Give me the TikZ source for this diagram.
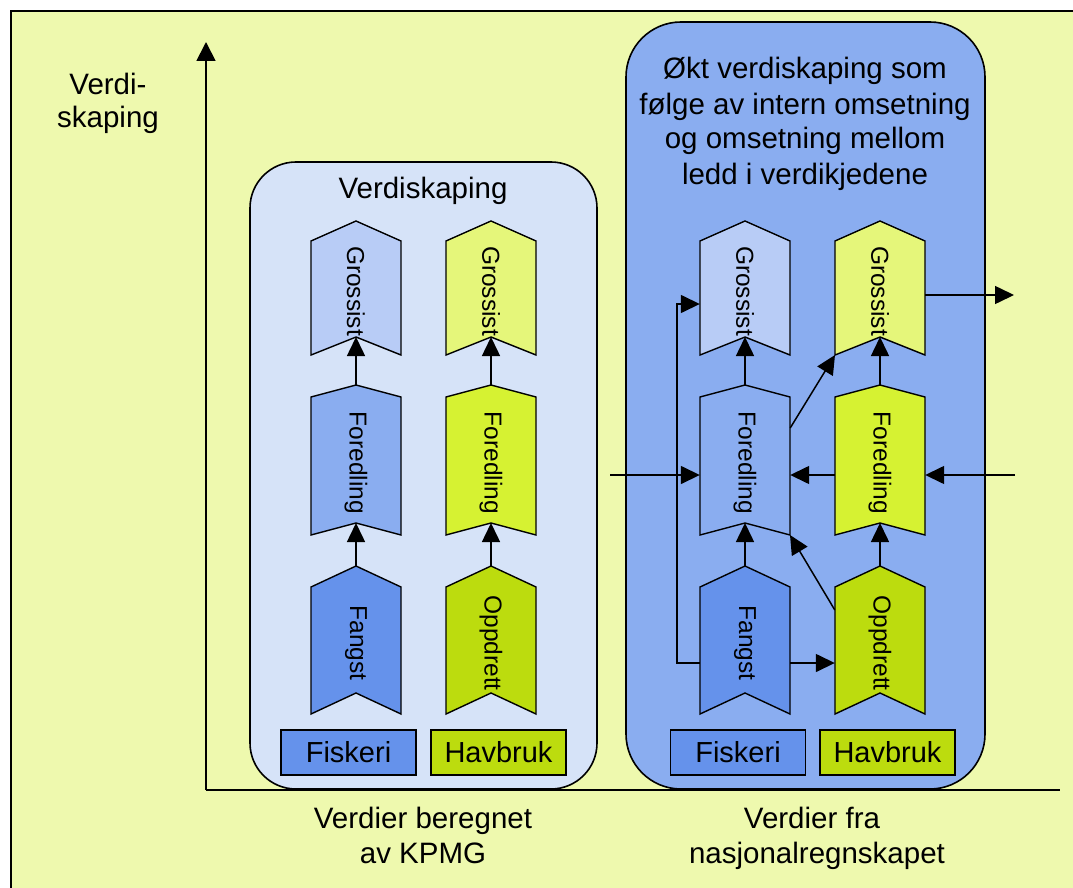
\documentclass[tikz,border=0pt]{standalone}
\usepackage{fontspec}
\setmainfont{Liberation Sans}
\usetikzlibrary{arrows.meta,calc}
\definecolor{bgyellow}{RGB}{238,249,174}
\definecolor{panelA}{RGB}{214,227,248}
\definecolor{panelB}{RGB}{138,173,240}
\definecolor{blueDark}{RGB}{101,146,235}
\definecolor{blueMid}{RGB}{138,173,240}
\definecolor{blueLight}{RGB}{184,204,246}
\definecolor{greenDark}{RGB}{188,220,14}
\definecolor{greenMid}{RGB}{214,242,50}
\definecolor{greenLight}{RGB}{229,246,122}

\tikzset{
  chevline/.style={draw=black, line width=1.4pt, line join=miter},
  chevbox/.style={draw=none, rectangle, minimum width=90pt, inner sep=0pt},
  chevtext/.style={rotate=-90, font=\fontsize{24.5}{28}\selectfont, inner sep=0pt},
  lbl/.style={font=\fontsize{29.5}{35}\selectfont, inner sep=0pt},
  sectorbox/.style={draw=black, line width=1.4pt, minimum width=135pt, minimum height=45pt, inner sep=0pt, font=\fontsize{29}{35}\selectfont},
  panel/.style={draw=black, line width=1.6pt},
  arr/.style={draw=black, line width=1.5pt, -{Triangle[length=19pt,width=18pt]}},
  plain/.style={draw=black, line width=1.5pt},
}

% name, cx, peak, shoulder, notch, bottom, fill, text
\newcommand{\chev}[8]{%
  \draw[chevline, fill=#7] (#2,#3) -- ({#2+45},#4) -- ({#2+45},#6) -- (#2,#5) -- ({#2-45},#6) -- ({#2-45},#4) -- cycle;
  \node[chevbox, minimum height={(#6-#3)*1pt}] (#1) at (#2,{(#3+#6)/2}) {};
  \node[chevtext] (#1-t) at (#2,{(#3+#6)/2+3}) {#8};
  \coordinate (#1-peak) at (#2,#3);
  \coordinate (#1-notch) at (#2,#5);
  \coordinate (#1-bl) at ({#2-45},#6);
  \coordinate (#1-br) at ({#2+45},#6);
}

\begin{document}
\begin{tikzpicture}[x=1pt,y=-1pt]
\useasboundingbox (0,0) rectangle (1073,888);
% outer frame
\draw[line width=2pt, fill=bgyellow] (11,11) rectangle (1090,905);

% panels
\draw[panel, fill=panelA, rounded corners=46pt] (250,162) rectangle (597,789);
\draw[panel, fill=panelB, rounded corners=55pt] (626,22) rectangle (985,789);

% axes
\coordinate (origin) at (206,790);
\coordinate (ytip) at (206,42);
\coordinate (xend) at (1060,790);
\draw[line width=1.8pt, -{Triangle[length=19pt,width=19pt]}] (origin) -- (ytip);
\draw[line width=1.8pt] (origin) -- (xend);

% axis label
\node[lbl, anchor=base] (yl1) at (108,95) {Verdi-};
\node[lbl, anchor=base] (yl2) at (108,128) {skaping};

% left panel title
\node[lbl, anchor=base] (vk) at (423,198) {Verdiskaping};

% right panel title
\node[lbl, anchor=base] (t1) at (805,79) {Økt verdiskaping som};
\node[lbl, anchor=base] (t2) at (805,114) {følge av intern omsetning};
\node[lbl, anchor=base] (t3) at (805,149) {og omsetning mellom};
\node[lbl, anchor=base] (t4) at (805,184) {ledd i verdikjedene};

% bottom labels
\node[lbl, anchor=base] (b1) at (423,828) {Verdier beregnet};
\node[lbl, anchor=base] (b2) at (423,863) {av KPMG};
\node[lbl, anchor=base] (b3) at (812,828) {Verdier fra};
\node[lbl, anchor=base] (b4) at (817,863) {nasjonalregnskapet};

% left panel chevrons
\chev{lbGro}{356}{221}{241}{337}{355}{blueLight}{Grossist}
\chev{lbFor}{356}{385}{397}{523}{535}{blueMid}{Foredling}
\chev{lbFan}{356}{566}{587}{693}{714}{blueDark}{Fangst}
\chev{lgGro}{491}{221}{241}{337}{355}{greenLight}{Grossist}
\chev{lgFor}{491}{385}{397}{523}{535}{greenMid}{Foredling}
\chev{lgOpp}{491}{566}{587}{693}{714}{greenDark}{Oppdrett}

% right panel chevrons
\chev{rbGro}{745}{221}{241}{337}{355}{blueLight}{Grossist}
\chev{rbFor}{745}{385}{397}{523}{535}{blueMid}{Foredling}
\chev{rbFan}{745}{566}{587}{693}{714}{blueDark}{Fangst}
\chev{rgGro}{880}{221}{241}{337}{355}{greenLight}{Grossist}
\chev{rgFor}{880}{385}{397}{523}{535}{greenMid}{Foredling}
\chev{rgOpp}{880}{566}{587}{693}{714}{greenDark}{Oppdrett}

% sector boxes
\node[sectorbox, fill=blueDark] (lFis) at (348.5,752.5) {Fiskeri};
\node[sectorbox, fill=greenDark] (lHav) at (498.5,752.5) {Havbruk};
\node[sectorbox, fill=blueDark] (rFis) at (738,752.5) {Fiskeri};
\node[sectorbox, fill=greenDark] (rHav) at (887.5,752.5) {Havbruk};

% left panel connectors
\draw[arr] (lbFan-peak) -- (lbFor-notch);
\draw[arr] (lbFor-peak) -- (lbGro-notch);
\draw[arr] (lgOpp-peak) -- (lgFor-notch);
\draw[arr] (lgFor-peak) -- (lgGro-notch);

% right panel connectors
\draw[arr] (rbFan-peak) -- (rbFor-notch);
\draw[arr] (rbFor-peak) -- (rbGro-notch);
\draw[arr] (rgOpp-peak) -- (rgFor-notch);
\draw[arr] (rgFor-peak) -- (rgGro-notch);

\coordinate (extR) at (1015,475);
\coordinate (extL) at (610,475);
\coordinate (extOut) at (1014,295);
\draw[arr] (extR) -- ($(rgFor.east)+(0,15)$);
\draw[arr] ($(rgFor.west)+(0,15)$) -- ($(rbFor.east)+(0,15)$);
\draw[arr] (extL) -- ($(rbFor.west)+(0,15)$);
\draw[arr] ($(rbFan.west)+(0,23)$) -- ++(-23,0) |- ($(rbGro.west)+(0,16)$);
\draw[arr] ($(rbFan.east)+(0,23)$) -- ($(rgOpp.west)+(0,23)$);
\draw[arr] ($(rbFor.east)+(0,-32)$) -- (rgGro-bl);
\draw[arr] ($(rgOpp.west)+(0,-30)$) -- (rbFor-br);
\draw[arr] ($(rgGro.east)+(0,7)$) -- (extOut);
\end{tikzpicture}
\end{document}
